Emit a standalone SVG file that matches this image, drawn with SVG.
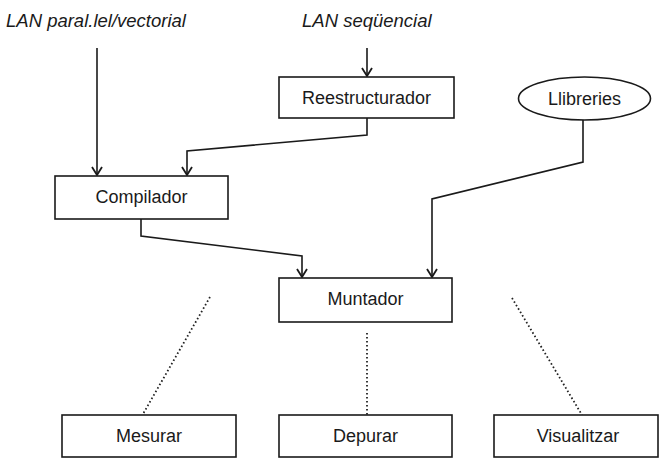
<svg xmlns="http://www.w3.org/2000/svg" width="661" height="458" viewBox="0 0 661 458">
<defs>
<style>
.box{fill:#fff;stroke:#1a1a1a;stroke-width:1.6}
.lbl{font-family:"Liberation Sans",Arial,sans-serif;font-size:18px;fill:#1a1a1a;text-anchor:middle}
.in{font-family:"Liberation Sans",Arial,sans-serif;font-size:18.5px;font-style:italic;fill:#1a1a1a}
.edge{fill:none;stroke:#1a1a1a;stroke-width:1.6;marker-end:url(#arr)}
.dot{fill:none;stroke:#222;stroke-width:1.8;stroke-dasharray:1.6 2.4}
</style>
<marker id="arr" viewBox="0 0 12 12" refX="10" refY="6" markerWidth="12" markerHeight="12" markerUnits="userSpaceOnUse" orient="auto">
<path d="M2,1 L10,6 L2,11" fill="none" stroke="#1a1a1a" stroke-width="1.8"/>
</marker>
</defs>
<rect width="661" height="458" fill="#fff"/>
<g id="inputs">
<text class="in" x="6" y="27">LAN paral.lel/vectorial</text>
<text class="in" x="302" y="27">LAN seqüencial</text>
</g>
<g id="connectors">
<path class="edge" d="M97,48 V175"/>
<path class="edge" d="M367,48 V76"/>
<path class="edge" d="M367,118 V135 L187,151 V175"/>
<path class="edge" d="M141,219 V236 L302,256 V277"/>
<path class="edge" d="M583,120 V162 L432,199 V277"/>
<path class="dot" d="M210,297 L143,414"/>
<path class="dot" d="M367,333 V415"/>
<path class="dot" d="M512,298 L582,415"/>
</g>
<g id="reestructurador">
<rect class="box" x="279" y="77" width="175" height="41"/>
<text class="lbl" x="366.5" y="104">Reestructurador</text>
</g>
<g id="llibreries">
<ellipse class="box" cx="584.5" cy="98.5" rx="66" ry="21.5"/>
<text class="lbl" x="584.5" y="105">Llibreries</text>
</g>
<g id="compilador">
<rect class="box" x="55" y="176" width="173" height="43"/>
<text class="lbl" x="141.5" y="203">Compilador</text>
</g>
<g id="muntador">
<rect class="box" x="279" y="278" width="173" height="44"/>
<text class="lbl" x="365.5" y="305">Muntador</text>
</g>
<g id="mesurar">
<rect class="box" x="62" y="415" width="174" height="42"/>
<text class="lbl" x="149" y="442">Mesurar</text>
</g>
<g id="depurar">
<rect class="box" x="279" y="415" width="173" height="42"/>
<text class="lbl" x="365.5" y="442">Depurar</text>
</g>
<g id="visualitzar">
<rect class="box" x="494" y="415" width="164" height="42"/>
<text class="lbl" x="578" y="442">Visualitzar</text>
</g>
</svg>
